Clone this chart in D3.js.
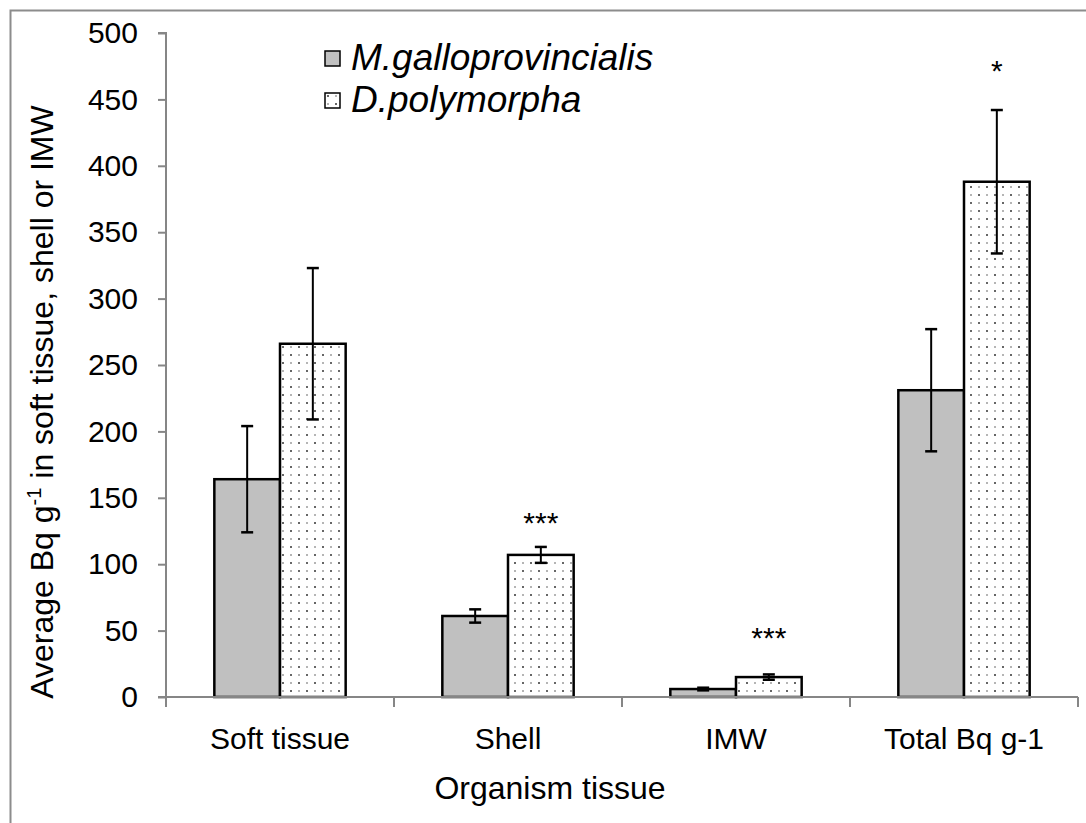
<!DOCTYPE html>
<html lang="en">
<head>
<meta charset="utf-8">
<style type="text/css">
  body { margin: 0; background: #fff; }
  text { font-family: "Liberation Sans", Arial, sans-serif; fill: #000; }
</style>
</head>
<body>
<svg width="1086" height="823"></svg>
<script src="https://d3js.org/d3.v7.min.js"></script>
<script type="text/javascript">
// data
var categories = ["Soft tissue", "Shell", "IMW", "Total Bq g-1"];
var species = ["M.galloprovincialis", "D.polymorpha"];
var mgMean = [164, 61, 6, 231];
var mgErr  = [40, 5, 1, 46];
var dpMean = [266, 107, 15, 388];
var dpErr  = [57, 6, 2, 54];
var stars  = ["", "***", "***", "*"];
var starAt = [0, 133, 47, 474];   // height (in Bq g-1) where each star label sits
var yTicks = [0, 50, 100, 150, 200, 250, 300, 350, 400, 450, 500];

var svg = d3.select("svg");

// outer frame (only left/top edges show in the picture)
svg.append("rect")
  .attr("x", 10.5).attr("y", 10.5)
  .attr("width", 1200).attr("height", 1000)
  .attr("fill", "none").attr("stroke", "#8c8c8c").attr("stroke-width", 2);

var defs = svg.append("defs");
var pat = defs.append("pattern")
  .attr("id", "dots").attr("patternUnits", "userSpaceOnUse")
  .attr("width", 16).attr("height", 16);
pat.append("rect").attr("width", 16).attr("height", 16).attr("fill", "#fff");
[[3, 3, 1.0], [11, 11, 1.0], [11, 3, 0.7], [3, 11, 0.7]].forEach(function(p) {
  pat.append("circle").attr("cx", p[0]).attr("cy", p[1]).attr("r", p[2]).attr("fill", "#333");
});

var plotL = 166, plotR = 1078, plotT = 33, plotB = 697;

var x = d3.scaleBand().domain(categories).range([plotL, plotR]);
var y = d3.scaleLinear().domain([0, 500]).range([plotB, plotT]);
var barW = x.bandwidth() * 0.288;

// bars
var rows = categories.map(function(c, i) {
  return [
    { cat: c, k: 0, v: mgMean[i], e: mgErr[i] },
    { cat: c, k: 1, v: dpMean[i], e: dpErr[i] }
  ];
});
var flat = [].concat.apply([], rows);

function bx(d) { return x(d.cat) + x.bandwidth() / 2 + (d.k - 1) * barW; }

svg.selectAll("rect.bar")
  .data(flat)
  .enter().append("rect")
  .attr("class", "bar")
  .attr("x", bx)
  .attr("y", function(d) { return y(d.v); })
  .attr("width", barW)
  .attr("height", function(d) { return y(0) - y(d.v); })
  .attr("fill", function(d) { return d.k == 0 ? "#c0c0c0" : "url(#dots)"; })
  .attr("stroke", "#000").attr("stroke-width", 2.5);

// axes
var yAxis = svg.append("g")
  .attr("transform", "translate(" + plotL + ",0)")
  .call(d3.axisLeft(y).tickValues(yTicks).tickSize(8).tickPadding(20));
var xAxis = svg.append("g")
  .attr("transform", "translate(0," + plotB + ")")
  .call(d3.axisBottom(x).tickSize(0).tickPadding(31));

[yAxis, xAxis].forEach(function(g) {
  g.select(".domain").attr("stroke", "#868686").attr("stroke-width", 2);
  g.selectAll(".tick line").attr("stroke", "#868686").attr("stroke-width", 2);
  g.selectAll(".tick text").attr("font-size", 30).attr("fill", "#000")
    .style("font-family", "'Liberation Sans', Arial, sans-serif");
});
yAxis.select(".domain").attr("d", "M-8," + plotT + "H0V" + plotB + "H-8");
// x category ticks on band edges
xAxis.selectAll("line.edge")
  .data(d3.range(categories.length + 1))
  .enter().append("line")
  .attr("x1", function(i) { return plotL + i * x.bandwidth(); })
  .attr("x2", function(i) { return plotL + i * x.bandwidth(); })
  .attr("y1", 0).attr("y2", 10)
  .attr("stroke", "#868686").attr("stroke-width", 2);
xAxis.select(".domain").attr("d", "M" + plotL + ",0H" + plotR);

// error bars
var eb = svg.selectAll("g.err").data(flat).enter().append("g").attr("class", "err");
eb.append("line")
  .attr("x1", function(d) { return bx(d) + barW / 2; })
  .attr("x2", function(d) { return bx(d) + barW / 2; })
  .attr("y1", function(d) { return y(d.v + d.e); })
  .attr("y2", function(d) { return y(Math.max(0, d.v - d.e)); })
  .attr("stroke", "#000").attr("stroke-width", 2);
[1, -1].forEach(function(s) {
  eb.append("line")
    .attr("x1", function(d) { return bx(d) + barW / 2 - 6; })
    .attr("x2", function(d) { return bx(d) + barW / 2 + 6; })
    .attr("y1", function(d) { return y(d.v + s * d.e); })
    .attr("y2", function(d) { return y(d.v + s * d.e); })
    .attr("stroke", "#000").attr("stroke-width", 2.5);
});

// significance stars
svg.selectAll("text.star")
  .data(categories)
  .enter().append("text")
  .attr("class", "star")
  .attr("x", function(c) { return x(c) + x.bandwidth() / 2 + barW / 2; })
  .attr("y", function(c, i) { return y(starAt[i]) + 13; })
  .attr("text-anchor", "middle")
  .attr("font-size", 30).attr("fill", "#333")
  .text(function(c, i) { return stars[i]; });

// axis titles
svg.append("text")
  .attr("x", 550).attr("y", 799)
  .attr("text-anchor", "middle").attr("font-size", 32)
  .text("Organism tissue");

var yt = svg.append("text")
  .attr("transform", "translate(53,402) rotate(-90)")
  .attr("text-anchor", "middle").attr("font-size", 32);
yt.append("tspan").text("Average Bq g");
yt.append("tspan").attr("font-size", 20).attr("dy", -12).text("-1");
yt.append("tspan").attr("dy", 12).text(" in soft tissue, shell or IMW");

// legend
var lg = svg.append("g").attr("transform", "translate(325,45)");
species.forEach(function(s, i) {
  lg.append("rect")
    .attr("x", 0).attr("y", i * 42 + 6)
    .attr("width", 15).attr("height", 15)
    .attr("fill", i == 0 ? "#c0c0c0" : "url(#dots)")
    .attr("stroke", "#000").attr("stroke-width", 1.5);
  lg.append("text")
    .attr("x", 26).attr("y", i * 42 + 25)
    .attr("font-size", 37).attr("font-style", "italic")
    .text(s);
});
</script>
</body>
</html>
